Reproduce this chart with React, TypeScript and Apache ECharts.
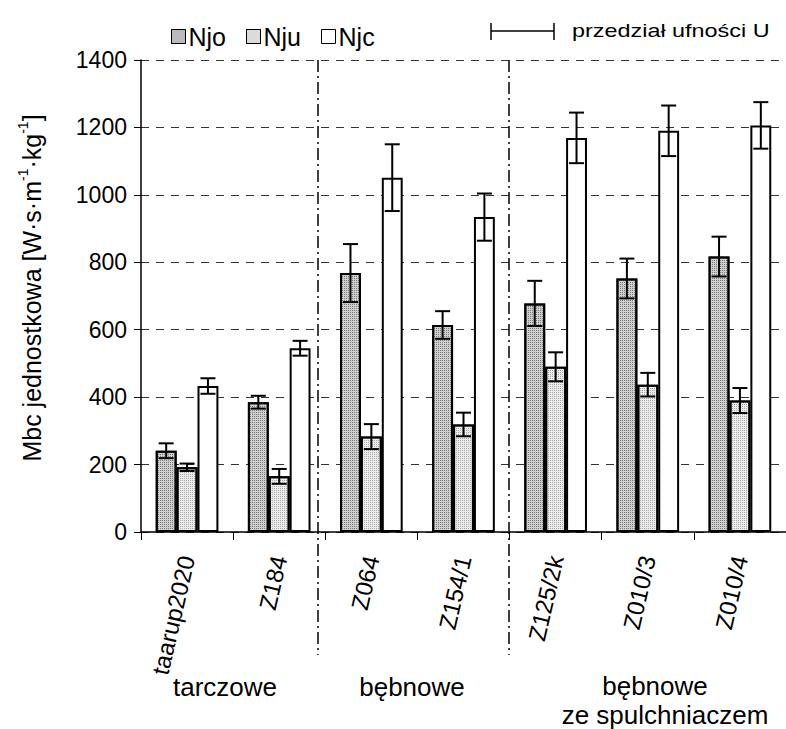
import React, { useEffect, useRef } from "react";
import * as echarts from "echarts";

const categories = ["taarup2020", "Z184", "Z064", "Z154/1", "Z125/2k", "Z010/3", "Z010/4"];
const seriesNames = ["Njo", "Nju", "Njc"];
const njo = [241, 385, 768, 614, 678, 752, 817];
const nju = [192, 165, 283, 319, 490, 437, 390];
const njc = [433, 545, 1051, 934, 1169, 1190, 1206];
const njoErr = [22, 19, 86, 41, 67, 59, 59];
const njuErr = [11, 22, 37, 35, 43, 35, 37];
const njcErr = [23, 22, 99, 70, 75, 75, 69];
const groupLabels = ["tarczowe", "bębnowe", "bębnowe", "ze spulchniaczem"];

const FONT = "'Liberation Sans', Arial, sans-serif";
const CAT_GAP = 0.32;
const fills = ["#cfcfcf", "#ececec", "#ffffff"];
const dots = ["#7a7a7a", "#a8a8a8", null];

function errorSeries(k: number, vals: number[], errs: number[]) {
  return {
    type: "custom",
    name: seriesNames[k] + "_err",
    z: 10,
    silent: true,
    data: vals.map((v, i) => [i, v - errs[i], v + errs[i]]),
    renderItem: (params: any, api: any) => {
      const i = api.value(0);
      const lo = api.coord([i, api.value(1)]);
      const hi = api.coord([i, api.value(2)]);
      const bw = (api.size([1, 0])[0] * (1 - CAT_GAP)) / 3;
      const cx = lo[0] + (k - 1) * bw;
      const cap = 7.5;
      const st = { stroke: "#000", lineWidth: 2 };
      return {
        type: "group",
        children: [
          { type: "line", shape: { x1: cx, y1: hi[1], x2: cx, y2: lo[1] }, style: st },
          { type: "line", shape: { x1: cx - cap, y1: hi[1], x2: cx + cap, y2: hi[1] }, style: st },
          { type: "line", shape: { x1: cx - cap, y1: lo[1], x2: cx + cap, y2: lo[1] }, style: st },
        ],
      };
    },
  };
}

export default function App() {
  const ref = useRef<HTMLDivElement>(null);
  useEffect(() => {
    if (!ref.current) return;
    const chart = echarts.init(ref.current, null, { renderer: "svg" });
    const values = [njo, nju, njc];
    const errs = [njoErr, njuErr, njcErr];
    const divLine = (x: number) => ({
      type: "line",
      shape: { x1: x, y1: 60, x2: x, y2: 655 },
      style: { stroke: "#000", lineWidth: 1.5, lineDash: [12, 4, 2, 4] },
      z: 5,
    });
    const txt = (text: string, x: number, y: number, size: number) => ({
      type: "text",
      x,
      y,
      style: { text, fill: "#000", font: size + "px " + FONT, align: "center", verticalAlign: "middle" },
    });
    chart.setOption({
      animation: false,
      aria: { enabled: false, decal: { show: true } },
      textStyle: { fontFamily: FONT },
      grid: { left: 141, top: 60, width: 651, height: 472, containLabel: false },
      legend: {
        data: seriesNames,
        left: 166,
        top: 19,
        icon: "rect",
        itemWidth: 14,
        itemHeight: 14,
        itemGap: 20,
        textStyle: { fontSize: 25, color: "#000", fontFamily: FONT, padding: [0, 0, 0, -2] },
        itemStyle: { borderColor: "#000", borderWidth: 1 },
      },
      xAxis: {
        type: "category",
        data: categories,
        axisLine: { lineStyle: { color: "#000", width: 1.5 } },
        axisTick: { show: true, length: 8, lineStyle: { color: "#000" } },
        axisLabel: {
          rotate: 77,
          fontSize: 24,
          color: "#000",
          margin: 24,
          padding: [0, 0, 8, 0],
          fontFamily: FONT,
        },
      },
      yAxis: {
        type: "value",
        min: 0,
        max: 1400,
        interval: 200,
        axisLine: { show: true, lineStyle: { color: "#000", width: 1.5 } },
        axisTick: { show: true, length: 7, lineStyle: { color: "#000" } },
        axisLabel: {
          fontSize: 23,
          color: "#000",
          margin: 14,
          fontFamily: FONT,
          formatter: (v: number) => String(v),
        },
        splitLine: { lineStyle: { color: "#333", type: [8, 7], width: 1 } },
      },
      series: [
        ...values.map((vals, k) => ({
          type: "bar",
          name: seriesNames[k],
          data: vals,
          barGap: "0%",
          barCategoryGap: CAT_GAP * 100 + "%",
          itemStyle: {
            color: fills[k],
            borderColor: "#000",
            borderWidth: 2,
            decal: dots[k]
              ? { symbol: "rect", symbolSize: 1, dashArrayX: [1, 1], dashArrayY: [1, 1], color: dots[k] }
              : "none",
          },
        })),
        ...values.map((vals, k) => errorSeries(k, vals, errs[k])),
      ],
      graphic: [
        divLine(318),
        divLine(509),
        {
          type: "group",
          children: [
            { type: "line", shape: { x1: 491, y1: 31, x2: 554, y2: 31 }, style: { stroke: "#000", lineWidth: 1.5 } },
            { type: "line", shape: { x1: 491, y1: 23, x2: 491, y2: 40 }, style: { stroke: "#000", lineWidth: 1.5 } },
            { type: "line", shape: { x1: 554, y1: 23, x2: 554, y2: 40 }, style: { stroke: "#000", lineWidth: 1.5 } },
          ],
        },
        {
          type: "text",
          x: 572,
          y: 31,
          scaleX: 1.3,
          style: { text: "przedział ufności U", fill: "#000", font: "18px " + FONT, align: "left", verticalAlign: "middle" },
        },
        {
          type: "text",
          x: 30,
          y: 288,
          rotation: Math.PI / 2,
          style: {
            text: "{a|Mbc jednostkowa [W·s·m}{s|-1}{a|·kg}{s|-1}{a|]}",
            align: "center",
            verticalAlign: "middle",
            rich: {
              a: { fontSize: 25, fill: "#000", fontFamily: FONT, lineHeight: 28, verticalAlign: "bottom" },
              s: { fontSize: 14, fill: "#000", fontFamily: FONT, lineHeight: 28, verticalAlign: "top", padding: [0, 0, 8, 0] },
            },
          },
        },
        txt(groupLabels[0], 225, 687, 26),
        txt(groupLabels[1], 412, 687, 26),
        txt(groupLabels[2], 655, 686, 26),
        txt(groupLabels[3], 665, 715, 26),
      ],
    });
    return () => chart.dispose();
  }, []);
  return (
    <div
      ref={ref}
      style={{ position: "absolute", left: 0, top: 0, width: 786, height: 729, background: "#fff" }}
    />
  );
}
